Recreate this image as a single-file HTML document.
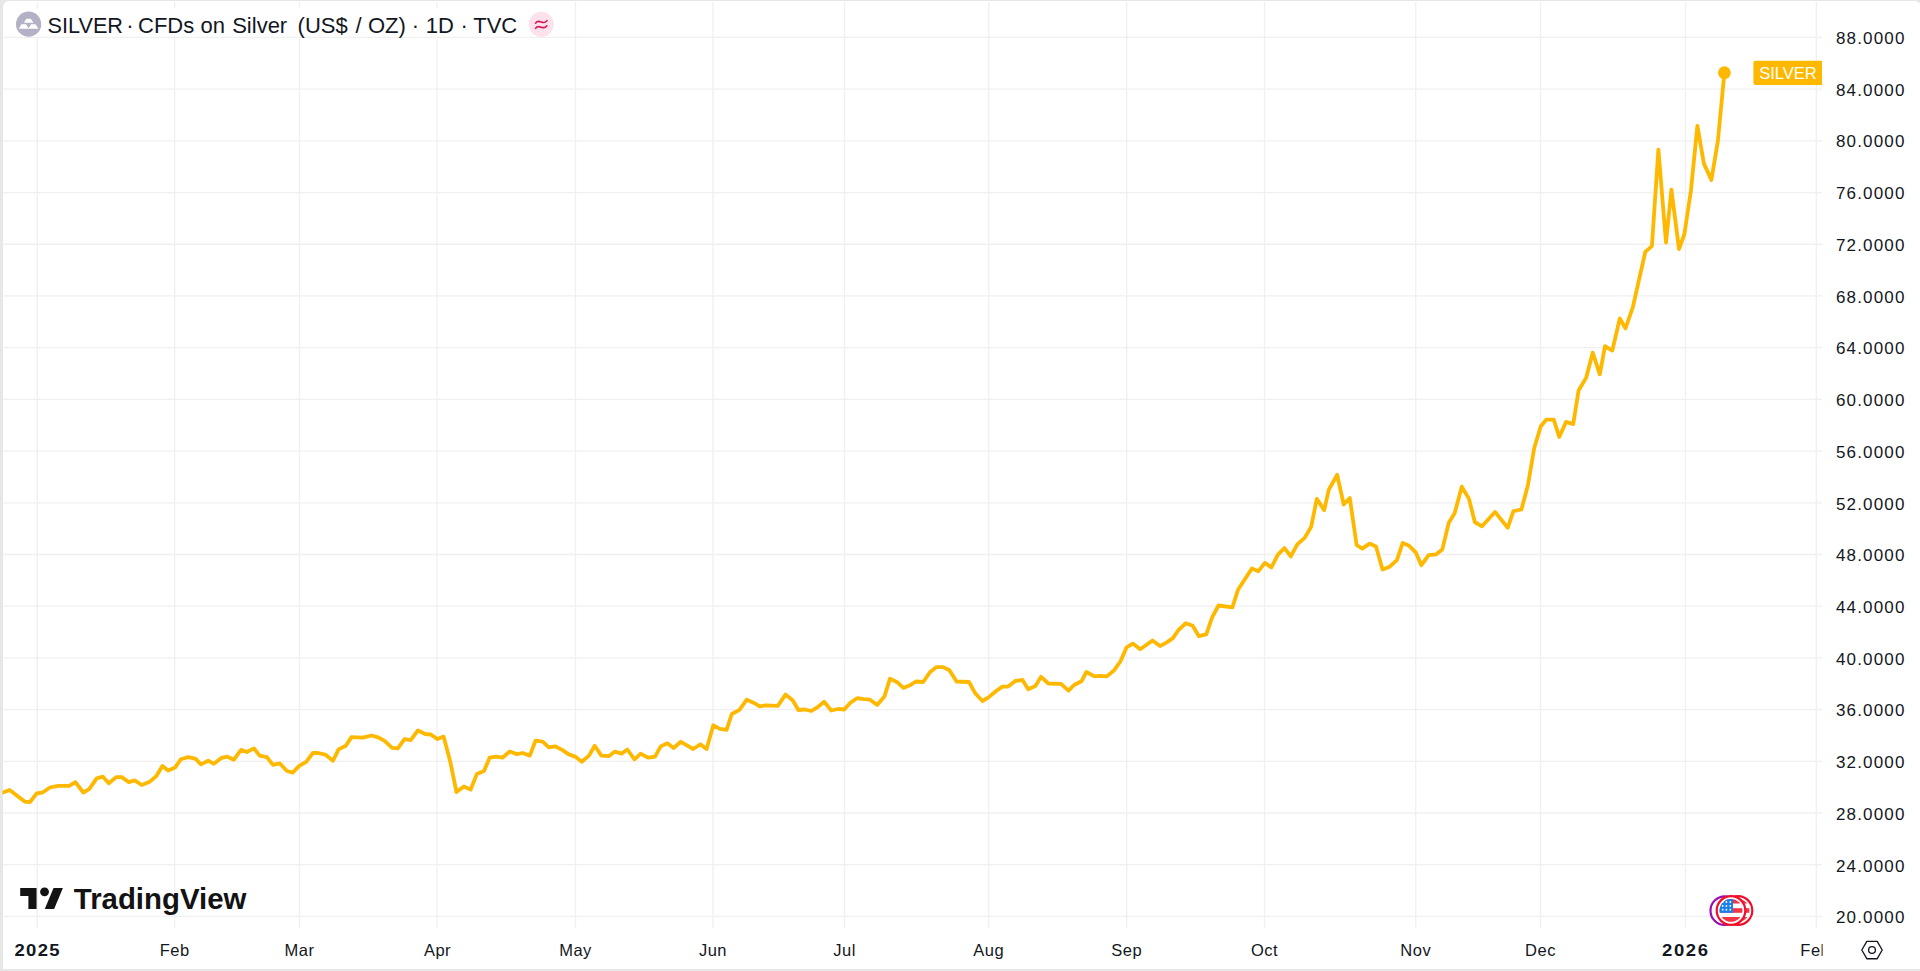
<!DOCTYPE html>
<html><head><meta charset="utf-8">
<style>
html,body{margin:0;padding:0;}
body{width:1920px;height:971px;overflow:hidden;background:#e7e7e8;position:relative;font-family:"Liberation Sans",sans-serif;}
#card{position:absolute;left:3px;top:1px;width:1918px;height:968px;background:#fff;border-radius:6px 6px 0 0;}
svg{position:absolute;left:0;top:0;}
.pl text{font-size:17px;letter-spacing:1.15px;}
.tl text{font-size:16.5px;letter-spacing:0.5px;}
.tl text.yr{font-weight:bold;letter-spacing:0;}
.hdr{font-size:22px;}
</style></head><body>
<div id="card"></div>
<svg width="1920" height="971" viewBox="0 0 1920 971" font-family="Liberation Sans, sans-serif">
<defs>
<clipPath id="pane"><rect x="2.5" y="2" width="1819.5" height="926.5"/></clipPath>
<clipPath id="taxclip"><rect x="0" y="930" width="1822.6" height="40"/></clipPath>
</defs>
<g clip-path="url(#pane)">
<g stroke="#f0f0f1" stroke-width="1.3"><line x1="37.2" y1="0" x2="37.2" y2="928.5"/><line x1="174.7" y1="0" x2="174.7" y2="928.5"/><line x1="299.5" y1="0" x2="299.5" y2="928.5"/><line x1="437.1" y1="0" x2="437.1" y2="928.5"/><line x1="575.5" y1="0" x2="575.5" y2="928.5"/><line x1="713" y1="0" x2="713" y2="928.5"/><line x1="844.5" y1="0" x2="844.5" y2="928.5"/><line x1="988.75" y1="0" x2="988.75" y2="928.5"/><line x1="1126.75" y1="0" x2="1126.75" y2="928.5"/><line x1="1264.5" y1="0" x2="1264.5" y2="928.5"/><line x1="1415.75" y1="0" x2="1415.75" y2="928.5"/><line x1="1540.5" y1="0" x2="1540.5" y2="928.5"/><line x1="1685.5" y1="0" x2="1685.5" y2="928.5"/><line x1="1816.3" y1="0" x2="1816.3" y2="928.5"/><line x1="0" y1="37.45" x2="1822" y2="37.45"/><line x1="0" y1="89.15" x2="1822" y2="89.15"/><line x1="0" y1="140.86" x2="1822" y2="140.86"/><line x1="0" y1="192.56" x2="1822" y2="192.56"/><line x1="0" y1="244.27" x2="1822" y2="244.27"/><line x1="0" y1="295.97" x2="1822" y2="295.97"/><line x1="0" y1="347.67" x2="1822" y2="347.67"/><line x1="0" y1="399.38" x2="1822" y2="399.38"/><line x1="0" y1="451.08" x2="1822" y2="451.08"/><line x1="0" y1="502.79" x2="1822" y2="502.79"/><line x1="0" y1="554.49" x2="1822" y2="554.49"/><line x1="0" y1="606.19" x2="1822" y2="606.19"/><line x1="0" y1="657.90" x2="1822" y2="657.90"/><line x1="0" y1="709.60" x2="1822" y2="709.60"/><line x1="0" y1="761.31" x2="1822" y2="761.31"/><line x1="0" y1="813.01" x2="1822" y2="813.01"/><line x1="0" y1="864.71" x2="1822" y2="864.71"/><line x1="0" y1="916.42" x2="1822" y2="916.42"/></g>
<rect x="12" y="8.5" width="546" height="28" fill="#fff"/>
<polyline points="2.9,792.5 9.6,790.0 25.0,801.7 30.0,802.0 36.7,793.3 42.5,792.5 50.0,787.5 58.3,785.8 69.2,785.8 75.4,782.1 83.3,792.5 89.2,789.2 96.7,778.3 102.9,776.7 108.8,783.3 116.2,777.1 121.7,777.1 128.8,782.1 134.6,780.4 141.7,785.0 149.2,782.1 156.2,776.2 162.4,765.9 168.0,770.5 175.2,767.4 180.9,759.2 188.1,757.1 195.3,758.7 201.0,764.4 208.2,760.7 213.8,763.8 221.0,758.2 226.7,756.6 233.9,759.7 241.1,749.9 246.8,752.0 254.0,748.4 259.7,755.6 266.9,757.1 273.0,764.9 279.7,763.3 286.9,771.0 292.6,772.6 299.3,765.9 306.2,761.8 312.9,753.0 318.0,753.0 325.2,754.6 333.0,760.7 338.6,749.4 345.8,745.8 351.5,737.1 362.8,737.6 371.6,735.5 378.8,737.6 384.9,741.2 392.1,747.9 397.8,748.4 404.5,739.1 410.7,740.2 417.9,730.4 425.1,734.0 430.8,734.5 437.5,739.1 443.6,736.6 450.3,761.8 456.5,792.1 463.9,786.5 470.6,789.6 476.8,774.1 484.0,771.0 489.6,757.7 496.3,756.6 502.5,757.7 509.7,751.5 516.9,754.1 522.6,753.0 529.8,755.6 535.5,740.7 542.7,741.7 548.8,747.4 555.0,746.3 562.2,749.9 568.4,754.1 575.1,756.6 581.8,761.8 589.0,755.6 594.7,745.8 601.4,755.6 608.8,756.2 614.9,751.6 621.6,753.6 627.3,749.5 634.5,759.3 640.7,753.6 647.9,757.7 655.1,756.7 660.7,746.4 667.4,743.3 673.6,748.0 680.8,741.8 687.0,745.4 693.2,749.0 700.4,744.4 706.6,749.0 713.3,725.3 720.0,728.9 726.6,729.9 731.8,714.0 739.5,709.9 746.7,699.6 753.4,702.7 759.8,706.4 765.4,705.4 777.8,705.9 785.5,694.6 792.7,700.2 798.4,710.0 804.6,709.5 811.3,711.0 818.0,706.9 824.1,701.8 831.3,710.5 838.0,709.0 844.2,709.5 850.4,702.8 857.1,698.2 863.8,699.2 870.0,699.7 877.2,704.9 884.4,696.6 890.0,678.6 897.2,682.2 903.4,687.9 909.3,685.6 916.0,681.5 923.2,682.0 929.9,672.2 936.6,667.1 943.2,667.1 949.4,670.2 956.6,681.5 969.0,682.0 975.2,693.3 982.4,701.0 988.5,697.4 995.8,691.3 1002.4,686.6 1008.1,686.6 1015.3,681.0 1022.5,680.0 1028.2,689.2 1035.4,686.1 1041.1,676.8 1048.3,683.5 1061.1,683.8 1068.5,690.6 1074.1,685.0 1081.5,681.3 1086.4,672.0 1094.5,676.4 1100.0,675.8 1106.8,676.4 1114.2,670.2 1120.4,661.5 1126.6,647.3 1132.8,643.6 1140.2,649.2 1152.5,640.5 1160.0,646.1 1166.8,642.4 1172.9,638.1 1178.5,630.0 1185.9,623.2 1192.7,625.7 1198.9,636.2 1206.3,634.4 1212.0,617.6 1218.5,605.5 1232.4,607.4 1238.0,589.8 1251.9,568.5 1258.4,571.2 1264.9,562.9 1271.4,567.5 1277.9,554.6 1284.4,548.1 1290.8,556.4 1297.3,544.4 1304.7,537.9 1311.2,526.7 1316.8,498.9 1324.2,510.1 1328.8,489.7 1337.2,474.8 1343.7,504.5 1349.8,498.0 1356.6,545.0 1362.3,548.6 1369.5,543.6 1376.0,546.5 1382.5,569.5 1389.7,566.7 1396.9,560.2 1402.7,542.9 1409.2,545.8 1415.7,552.3 1421.4,565.2 1428.6,555.1 1435.9,554.4 1442.3,549.4 1448.8,522.7 1454.6,513.3 1461.8,486.7 1469.0,498.9 1474.8,522.0 1482.0,526.3 1495.0,511.9 1507.7,527.8 1513.4,511.2 1521.4,509.5 1527.8,485.7 1534.3,447.8 1540.8,426.2 1546.2,419.7 1553.8,419.7 1559.2,437.0 1566.1,421.9 1573.2,424.1 1578.6,390.5 1586.2,377.6 1592.7,352.7 1599.8,374.3 1605.0,346.2 1612.3,350.6 1619.8,318.5 1625.5,328.4 1632.9,307.0 1645.3,251.9 1651.9,246.1 1658.4,149.6 1666.0,242.6 1671.4,189.6 1679.0,249.1 1684.4,234.0 1690.9,190.7 1697.4,125.8 1703.9,163.6 1711.4,179.9 1717.9,140.9 1724.4,72.7" fill="none" stroke="#FFB800" stroke-width="3.8" stroke-linejoin="round" stroke-linecap="round"/>
<circle cx="1724.4" cy="72.7" r="6.4" fill="#FFB800"/>
</g>
<!-- header -->
<circle cx="28.6" cy="24.2" r="12.6" fill="#b3b1c5"/>
<g fill="#fff">
<path d="M23.9 22.8 L26.4 18.65 L30.8 18.65 L33.5 22.8 Z"/>
<path d="M18.8 28.7 L21.4 24.2 L26 24.2 L28.7 28.2 L31.1 24.2 L35.6 24.2 L38.4 28.7 Z"/>
</g>
<g fill="#131722" font-size="22"><text x="47.60" y="32.8" textLength="75.4" lengthAdjust="spacingAndGlyphs">SILVER</text><text x="138.00" y="32.8">CFDs</text><text x="200.60" y="32.8">on</text><text x="232.20" y="32.8">Silver</text><text x="297.60" y="32.8">(US$</text><text x="355.40" y="32.8">/</text><text x="368.00" y="32.8">OZ)</text><text x="425.80" y="32.8">1D</text><text x="473.20" y="32.8">TVC</text><text x="130.00" y="32.8" text-anchor="middle">·</text><text x="415.40" y="32.8" text-anchor="middle">·</text><text x="464.20" y="32.8" text-anchor="middle">·</text></g>
<circle cx="541.3" cy="24.3" r="12.5" fill="#fde1eb"/>
<g fill="none" stroke="#d8185e" stroke-width="1.6" stroke-linecap="round"><path d="M535.7 23.2 C537 21, 539.3 21.2, 541.3 22 S545.6 22.5, 547 20.6"/><path d="M535.6 28.4 C536.9 26.2, 539.2 26.4, 541.2 27.2 S545.5 27.7, 546.9 25.8"/></g>
<!-- price axis -->
<g class="pl" fill="#131722"><text x="1836" y="44.00">88.0000</text><text x="1836" y="95.73">84.0000</text><text x="1836" y="147.46">80.0000</text><text x="1836" y="199.18">76.0000</text><text x="1836" y="250.91">72.0000</text><text x="1836" y="302.64">68.0000</text><text x="1836" y="354.37">64.0000</text><text x="1836" y="406.10">60.0000</text><text x="1836" y="457.82">56.0000</text><text x="1836" y="509.55">52.0000</text><text x="1836" y="561.28">48.0000</text><text x="1836" y="613.01">44.0000</text><text x="1836" y="664.74">40.0000</text><text x="1836" y="716.46">36.0000</text><text x="1836" y="768.19">32.0000</text><text x="1836" y="819.92">28.0000</text><text x="1836" y="871.65">24.0000</text><text x="1836" y="923.38">20.0000</text></g>
<!-- SILVER label -->
<path d="M1755.6 60.7 H1822 V85 H1755.6 Q1753.4 85 1753.4 82.8 V62.9 Q1753.4 60.7 1755.6 60.7 Z" fill="#FFB800"/>
<text x="1788" y="79.2" text-anchor="middle" fill="#fff" font-size="16.5">SILVER</text>
<!-- time axis -->
<g clip-path="url(#taxclip)" class="tl" fill="#131722"><text x="174.7" y="956.1" text-anchor="middle">Feb</text><text x="299.5" y="956.1" text-anchor="middle">Mar</text><text x="437.5" y="956.1" text-anchor="middle">Apr</text><text x="575.5" y="956.1" text-anchor="middle">May</text><text x="713" y="956.1" text-anchor="middle">Jun</text><text x="844.5" y="956.1" text-anchor="middle">Jul</text><text x="988.75" y="956.1" text-anchor="middle">Aug</text><text x="1126.75" y="956.1" text-anchor="middle">Sep</text><text x="1264.5" y="956.1" text-anchor="middle">Oct</text><text x="1415.75" y="956.1" text-anchor="middle">Nov</text><text x="1540.5" y="956.1" text-anchor="middle">Dec</text><text x="1815.3" y="956.1" text-anchor="middle">Feb</text><text class="yr" transform="translate(14.4 956.1) scale(1.12 1)" x="0" y="0" textLength="40.3" lengthAdjust="spacing">2025</text><text class="yr" transform="translate(1662 956.1) scale(1.12 1)" x="0" y="0" textLength="41.1" lengthAdjust="spacing">2026</text></g>
<!-- settings icon -->
<g fill="none" stroke="#131722" stroke-width="1.35" stroke-linejoin="round">
<path d="M1866.8 941.3 H1877.2 L1882.2 950 L1877.2 958.7 H1866.8 L1861.8 950 Z"/>
<circle cx="1872" cy="950" r="3.4"/>
</g>
<!-- TV logo -->
<g transform="translate(20.2 883.2) scale(1.17)" fill="#131313">
<path d="M14 22H7V11H0V4h14v18z"/><path d="M29 22h-8l7.5-18h8L29 22z"/><circle cx="20.8" cy="7.4" r="3.8"/>
</g>
<text x="73.8" y="909" font-size="30" font-weight="bold" fill="#131313" textLength="172.6" lengthAdjust="spacingAndGlyphs">TradingView</text>
<!-- flag icon -->
<g>
<circle cx="1724.8" cy="910.7" r="14.3" fill="#fff" stroke="#9a0fb0" stroke-width="2.2"/>
<circle cx="1738" cy="910.5" r="14.3" fill="#fff" stroke="#f0102a" stroke-width="2.2"/>
<clipPath id="flagb"><circle cx="1738" cy="910.4" r="11.4"/></clipPath>
<g clip-path="url(#flagb)">
<rect x="1726" y="898" width="24" height="25" fill="#fff"/>
<rect x="1726" y="898" width="24" height="5.5" fill="#f23645"/>
<rect x="1726" y="908.2" width="24" height="4.6" fill="#f23645"/>
<rect x="1726" y="917" width="24" height="6" fill="#f23645"/>
<rect x="1726" y="898" width="14" height="14.8" fill="#1a80e8"/>
</g>
<circle cx="1731" cy="910.5" r="14.3" fill="#fff" stroke="#f0102a" stroke-width="2.2"/>
<clipPath id="flagc"><circle cx="1731" cy="910.4" r="11.4"/></clipPath>
<g clip-path="url(#flagc)">
<rect x="1719" y="898" width="24" height="25" fill="#fff"/>
<rect x="1719" y="898" width="24" height="5.5" fill="#f23645"/>
<rect x="1719" y="908.2" width="24" height="4.6" fill="#f23645"/>
<rect x="1719" y="917" width="24" height="6" fill="#f23645"/>
<rect x="1719" y="898" width="14" height="14.8" fill="#1a80e8"/>
</g>
<g fill="#fff">
<circle cx="1722.7" cy="902" r="0.9"/><circle cx="1726.4" cy="902" r="0.9"/><circle cx="1730.3" cy="902" r="0.9"/>
<circle cx="1722.7" cy="905.9" r="0.9"/><circle cx="1726.4" cy="905.9" r="0.9"/><circle cx="1730.3" cy="905.9" r="0.9"/>
<circle cx="1722.7" cy="909.7" r="0.9"/><circle cx="1726.4" cy="909.7" r="0.9"/><circle cx="1730.3" cy="909.7" r="0.9"/>
</g>
</g>
</svg>
</body></html>
